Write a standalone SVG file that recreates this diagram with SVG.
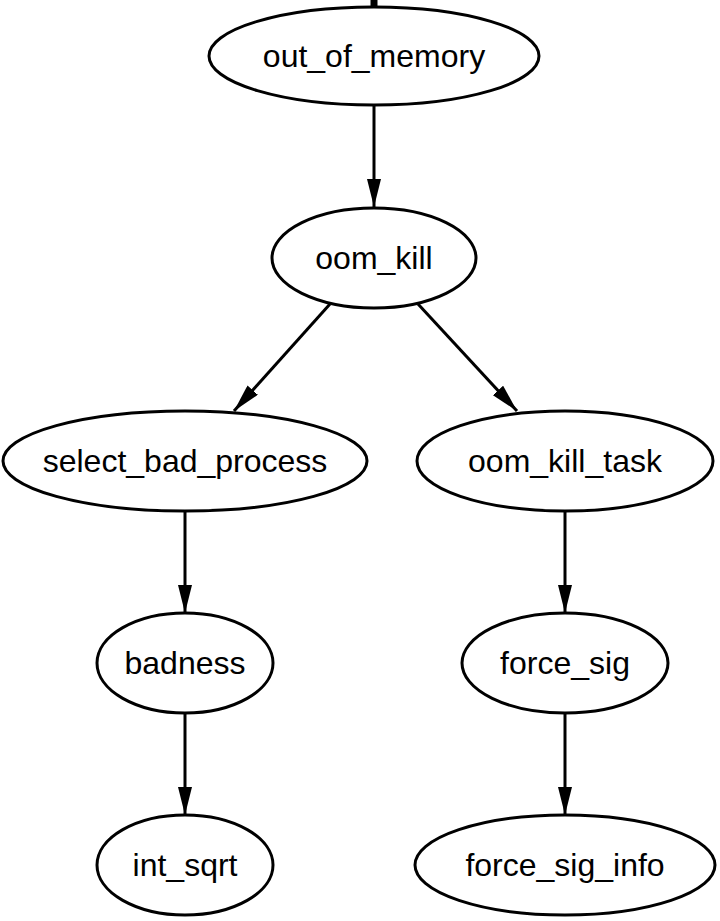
<svg xmlns="http://www.w3.org/2000/svg" width="720" height="921" viewBox="0 0 720 921">
<style>
.n ellipse{fill:#fff;stroke:#000;stroke-width:3}
.n text{font-family:"Liberation Sans",Arial,sans-serif;font-size:32px;text-anchor:middle;dominant-baseline:central;fill:#000}
.e line{stroke:#000;stroke-width:3}
</style>
<defs><marker id="a" markerWidth="28" markerHeight="14" refX="28" refY="7" orient="auto" markerUnits="userSpaceOnUse" viewBox="0 0 28 14"><path d="M0,0L28,7L0,14z" fill="#000"/></marker></defs>
<rect width="720" height="921" fill="#fff"/>
<g id="edges" class="e">
<line x1="374" y1="0" x2="374" y2="6" style="stroke-width:7"/>
<line x1="374" y1="105" x2="374" y2="207" marker-end="url(#a)"/>
<line x1="330" y1="304" x2="234" y2="411" marker-end="url(#a)"/>
<line x1="418" y1="304" x2="517" y2="411" marker-end="url(#a)"/>
<line x1="185" y1="511" x2="185" y2="613" marker-end="url(#a)"/>
<line x1="565" y1="511" x2="565" y2="613" marker-end="url(#a)"/>
<line x1="185" y1="713" x2="185" y2="815" marker-end="url(#a)"/>
<line x1="565" y1="713" x2="565" y2="815" marker-end="url(#a)"/>
</g>
<g id="out_of_memory" class="n"><ellipse cx="374" cy="56" rx="165" ry="49"/><text x="374" y="56">out_of_memory</text></g>
<g id="oom_kill" class="n"><ellipse cx="374" cy="258" rx="102" ry="50"/><text x="374" y="258">oom_kill</text></g>
<g id="select_bad_process" class="n"><ellipse cx="185" cy="461" rx="182" ry="50"/><text x="185" y="461">select_bad_process</text></g>
<g id="oom_kill_task" class="n"><ellipse cx="565" cy="461" rx="148" ry="50"/><text x="565" y="461">oom_kill_task</text></g>
<g id="badness" class="n"><ellipse cx="185" cy="663" rx="88" ry="50"/><text x="185" y="663">badness</text></g>
<g id="force_sig" class="n"><ellipse cx="565" cy="663" rx="103" ry="50"/><text x="565" y="663">force_sig</text></g>
<g id="int_sqrt" class="n"><ellipse cx="185" cy="865" rx="88" ry="50"/><text x="185" y="865">int_sqrt</text></g>
<g id="force_sig_info" class="n"><ellipse cx="565" cy="865" rx="150" ry="50"/><text x="565" y="865">force_sig_info</text></g>
</svg>
